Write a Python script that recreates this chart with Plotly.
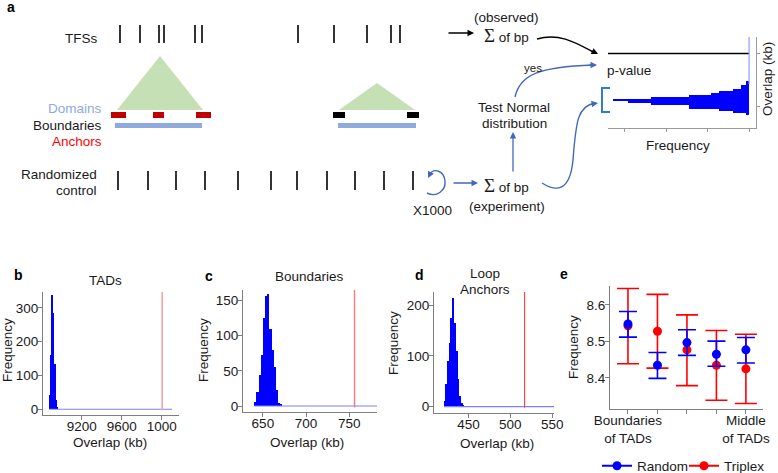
import plotly.graph_objects as go

W, H = 778, 473
FONT = "Liberation Sans, Arial, sans-serif"

# ---------------- data: permutation tests (panels b-d) ----------------
tads_bins = [8881, 8894, 8906, 8919, 8931, 8944, 8956]
tads_counts = [42, 162, 338, 285, 135, 28, 6]
tads_bin_width = 12.5
tads_observed = 10005
tads_null_span = [8875, 10103]

bound_bins = [641.25, 643.75, 646.25, 648.75, 651.25, 653.75, 656.25,
              658.75, 661.25, 663.75, 666.25, 668.75, 671.25]
bound_counts = [6, 20, 44, 73, 125, 156, 159, 110, 80, 56, 23, 5, 3]
bound_bin_width = 2.5
bound_observed = 756
bound_null_span = [640, 782]

anchor_bins = [422, 424, 426, 428, 430, 432, 434, 436, 438, 440, 442, 444]
anchor_counts = [12, 45, 90, 125, 175, 215, 165, 110, 55, 22, 8, 3]
anchor_bin_width = 2
anchor_observed = 517
anchor_null_span = [421, 552]

# ---------------- data: panel e ----------------
tad_positions = [1, 2, 3, 4, 5]
tad_position_labels = ["Boundaries<br>of TADs", "", "", "", "Middle<br>of TADs"]
random_mean = [8.548, 8.435, 8.497, 8.465, 8.477]
random_low = [8.512, 8.399, 8.462, 8.432, 8.441]
random_high = [8.582, 8.470, 8.532, 8.501, 8.511]
triplex_mean = [8.543, 8.528, 8.477, 8.435, 8.425]
triplex_low = [8.439, 8.427, 8.379, 8.339, 8.330]
triplex_high = [8.645, 8.629, 8.573, 8.530, 8.520]

# ---------------- data: schematic inset histogram (panel a) ----------------
inset_overlap = [14, 16, 18, 20, 22, 24, 26, 28, 30, 32, 34, 36, 38, 40, 42, 44, 46]
inset_freq = [3, 16, 31, 61, 61, 99, 123, 138, 99, 61, 39, 31, 16, 8, 8, 3, 3]
inset_observed = 74.5

# ---------------- data: schematic genome tracks (panel a) ----------------
tfs_sites = [120, 140, 159, 164, 195, 202, 298, 334, 367, 391, 400]
random_sites = [118, 148, 176, 205, 238, 271, 297, 327, 355, 384, 413]
domain_left = [117, 339]
domain_right = [203, 415]
domain_apex = [56, 83]
anchor_left = [111, 153, 196]
anchor_right = [126, 164, 211]
boundary_left = [333, 407]
boundary_right = [345, 419]
domain_bar_left = [115, 338]
domain_bar_right = [202, 416]


def xd(a, b):
    return [a / W, b / W]


def yd(top, bottom):
    return [1 - bottom / H, 1 - top / H]


def ticks_xy(xs, y0, y1):
    X, Y = [], []
    for x in xs:
        X += [x, x, None]
        Y += [y0, y1, None]
    return X, Y


def rects_xy(lefts, rights, y0, y1):
    X, Y = [], []
    for l, r in zip(lefts, rights):
        X += [l, r, r, l, l, None]
        Y += [y0, y0, y1, y1, y0, None]
    return X, Y


fig = go.Figure()
S = dict(xaxis="x5", yaxis="y5", hoverinfo="skip", showlegend=False)

# ---- schematic ----
x, y = ticks_xy(tfs_sites, 25, 43)
fig.add_trace(go.Scatter(x=x, y=y, mode="lines", line=dict(color="black", width=1.6), **S))
x, y = ticks_xy(random_sites, 171, 190)
fig.add_trace(go.Scatter(x=x, y=y, mode="lines", line=dict(color="black", width=1.6), **S))
for l, r, a in zip(domain_left, domain_right, domain_apex):
    fig.add_trace(go.Scatter(x=[l, (l + r) / 2, r, l], y=[110, a, 110, 110], mode="lines",
                             fill="toself", fillcolor="#c5e0b4", line=dict(width=0), **S))
x, y = rects_xy(anchor_left, anchor_right, 112, 118)
fig.add_trace(go.Scatter(x=x, y=y, mode="lines", fill="toself", fillcolor="#c00000",
                         line=dict(width=0), **S))
x, y = rects_xy(boundary_left, boundary_right, 112, 118)
fig.add_trace(go.Scatter(x=x, y=y, mode="lines", fill="toself", fillcolor="#000000",
                         line=dict(width=0), **S))
x, y = rects_xy(domain_bar_left, domain_bar_right, 123, 128)
fig.add_trace(go.Scatter(x=x, y=y, mode="lines", fill="toself", fillcolor="#8faadc",
                         line=dict(width=0), **S))

# ---- inset histogram in schematic ----
fig.add_trace(go.Bar(y=inset_overlap, x=inset_freq, orientation="h", width=2,
                     marker=dict(color="#0000ff", line=dict(width=0)),
                     xaxis="x6", yaxis="y6", showlegend=False, hoverinfo="skip"))
fig.add_trace(go.Scatter(x=[0, 143], y=[inset_observed, inset_observed], mode="lines",
                         line=dict(color="black", width=1.6), xaxis="x6", yaxis="y6",
                         showlegend=False, hoverinfo="skip", cliponaxis=False))
fig.add_trace(go.Scatter(x=[0, 0], y=[44, 93], mode="lines",
                         line=dict(color="#8f9cff", width=1.2), xaxis="x6", yaxis="y6",
                         showlegend=False, hoverinfo="skip", cliponaxis=False))

# ---- panels b-d ----
hist_panels = [
    ("x", "y", tads_bins, tads_counts, tads_bin_width, tads_null_span),
    ("x2", "y2", bound_bins, bound_counts, bound_bin_width, bound_null_span),
    ("x3", "y3", anchor_bins, anchor_counts, anchor_bin_width, anchor_null_span),
]
for xa, ya, bins, counts, bw, span in hist_panels:
    fig.add_trace(go.Scatter(x=span, y=[0, 0], mode="lines", line=dict(color="#7f7fff", width=1.2),
                             xaxis=xa, yaxis=ya, showlegend=False, hoverinfo="skip"))
    fig.add_trace(go.Bar(x=bins, y=counts, width=bw, marker=dict(color="#0000ff", line=dict(width=0)),
                         xaxis=xa, yaxis=ya, showlegend=False))

# ---- panel e ----
def err(mean, low, high):
    return dict(type="data", symmetric=False,
                array=[h - m for m, h in zip(mean, high)],
                arrayminus=[m - l for m, l in zip(mean, low)])

tri_err = err(triplex_mean, triplex_low, triplex_high)
tri_err.update(color="#ff0000", thickness=1.6, width=11)
rnd_err = err(random_mean, random_low, random_high)
rnd_err.update(color="#0000ff", thickness=1.6, width=9)
fig.add_trace(go.Scatter(x=tad_positions, y=triplex_mean, mode="markers", name="Triplex",
                         marker=dict(color="#ff0000", size=9), error_y=tri_err,
                         xaxis="x4", yaxis="y4", showlegend=False))
fig.add_trace(go.Scatter(x=tad_positions, y=random_mean, mode="markers", name="Random",
                         marker=dict(color="#0000ff", size=9), error_y=rnd_err,
                         xaxis="x4", yaxis="y4", showlegend=False))
fig.add_trace(go.Scatter(x=[None], y=[None], mode="lines+markers", name="Random",
                         marker=dict(color="#0000ff", size=9), line=dict(color="#0000ff", width=2),
                         xaxis="x4", yaxis="y4", legendrank=1))
fig.add_trace(go.Scatter(x=[None], y=[None], mode="lines+markers", name="Triplex",
                         marker=dict(color="#ff0000", size=9), line=dict(color="#ff0000", width=2),
                         xaxis="x4", yaxis="y4", legendrank=2))

axc = dict(showline=True, linecolor="#7f7f7f", linewidth=1.2, ticks="outside", ticklen=4,
           tickcolor="#7f7f7f", tickwidth=1, showgrid=False, zeroline=False, automargin=False,
           tickfont=dict(size=13.5, color="#1a1a1a", family=FONT))
axx = dict(axc, ticklabelstandoff=-5)
axy = dict(axc, ticklabelstandoff=-3)

layout = dict(
    width=W, height=H, margin=dict(l=0, r=0, t=0, b=0, pad=0, autoexpand=False), autosize=False,
    paper_bgcolor="white", plot_bgcolor="rgba(0,0,0,0)",
    font=dict(family=FONT, size=13.5, color="#1a1a1a"),
    bargap=0, showlegend=True,
    legend=dict(orientation="h", x=597 / W, y=1 - 466 / H, xanchor="left", yanchor="middle",
                font=dict(size=13.5, color="#1a1a1a"), bgcolor="rgba(0,0,0,0)", itemwidth=30,
                tracegroupgap=0, entrywidth=42),
    xaxis=dict(axx, domain=xd(43, 179), range=[8813, 10173], anchor="y",
               tickvals=[9200, 9600, 10000], ticktext=["9200", "9600", "1000"]),
    yaxis=dict(axy, domain=yd(292, 415), range=[-17, 347], anchor="x", tickvals=[0, 100, 200, 300]),
    xaxis2=dict(axx, domain=xd(243, 377), range=[627, 782], anchor="y2", tickvals=[650, 700, 750]),
    yaxis2=dict(axy, domain=yd(290, 412), range=[-8.5, 165], anchor="x2", tickvals=[0, 50, 100, 150]),
    xaxis3=dict(axx, domain=xd(434, 554), range=[409, 552], anchor="y3", tickvals=[450, 500, 550]),
    yaxis3=dict(axy, domain=yd(292, 413), range=[-12.4, 226], anchor="x3", tickvals=[0, 100, 200]),
    xaxis4=dict(axx, domain=xd(610, 763), range=[0.39, 5.58], anchor="y4",
                tickvals=tad_positions, ticktext=tad_position_labels),
    yaxis4=dict(axy, domain=yd(286, 409), range=[8.315, 8.652], anchor="x4",
                tickvals=[8.4, 8.5, 8.6], tickformat=".1f"),
    xaxis5=dict(domain=[0, 1], range=[0, W], visible=False, anchor="y5", fixedrange=True),
    yaxis5=dict(domain=[0, 1], range=[H, 0], visible=False, anchor="x5", fixedrange=True),
    xaxis6=dict(domain=xd(608, 756), range=[143, -7], anchor="y6", showline=True,
                linecolor="#9a9a9a", linewidth=1, ticks="outside", ticklen=3, tickcolor="#9a9a9a",
                tickvals=[0, 42, 84, 126], showticklabels=False, showgrid=False, zeroline=False),
    yaxis6=dict(domain=yd(37, 128), range=[0, 91], anchor="x6", side="right", showline=True,
                linecolor="#9a9a9a", linewidth=1, ticks="outside", ticklen=3, tickcolor="#9a9a9a",
                tickvals=[22, 74.5], showticklabels=False, showgrid=False, zeroline=False),
)
fig.update_layout(**layout)

# red observed lines
fig.add_shape(type="line", xref="x", yref="y", x0=tads_observed, x1=tads_observed, y0=-3, y1=352,
              line=dict(color="#f4a3a3", width=1.6))
fig.add_shape(type="line", xref="x2", yref="y2", x0=bound_observed, x1=bound_observed, y0=-2, y1=167,
              line=dict(color="#ff7878", width=1.4))
fig.add_shape(type="line", xref="x3", yref="y3", x0=anchor_observed, x1=anchor_observed, y0=-2, y1=226,
              line=dict(color="#ff2a2a", width=1))

BLUE = "#4169b8"
# curves of the schematic (schematic coordinates)
curves = [
    ("M537,39 C560,32 578,44 595,53", "black"),
    ("M515,97 C520,74 540,67 593,65", BLUE),
    ("M542,183 C556,192 570,192 573,160 C576,120 578,106 595,103", BLUE),
    ("M427,193 C437,198 446,190 445,181 C444,171 434,167 429,175", BLUE),
    ("M610,88 L602,88 L602,112 L610,112", "#2e7bd0"),
]
for path, col in curves:
    fig.add_shape(type="path", xref="x5", yref="y5", path=path,
                  line=dict(color=col, width=1.4 if col != "#2e7bd0" else 2))

A = []
def text(x, y, t, size=13.5, color="#1a1a1a", xanchor="center", bold=False, angle=0, family=FONT):
    if bold:
        t = "<b>" + t + "</b>"
    A.append(dict(x=x, y=y, xref="x5", yref="y5", text=t, showarrow=False, xanchor=xanchor,
                  yanchor="middle", textangle=angle, font=dict(size=size, color=color, family=family)))

def arrow(x0, y0, x1, y1, color):
    A.append(dict(x=x1, y=y1, ax=x0, ay=y0, xref="x5", yref="y5", axref="x5", ayref="y5",
                  text="", showarrow=True, arrowhead=2, arrowsize=1, arrowwidth=1.3,
                  arrowcolor=color))

# panel letters
text(11, 7, "a", 14, bold=True, color="black")
text(18, 275, "b", 14, bold=True, color="black")
text(209, 276, "c", 14, bold=True, color="black")
text(419, 275, "d", 14, bold=True, color="black")
text(564, 274, "e", 14, bold=True, color="black")

# schematic labels
text(99, 38, "TFSs", xanchor="right")
text(104, 108, "Domains", color="#8faadc", xanchor="right")
text(104, 125, "Boundaries", xanchor="right")
text(104, 141, "Anchors", color="#ff0000", xanchor="right")
text(99, 174, "Randomized", xanchor="right")
text(99, 190, "control", xanchor="right")
text(432, 210, "X1000")
text(506, 17, "(observed)")
sigma = '<span style="font-family:Liberation Serif;font-size:19px">Σ</span> of bp'
text(506, 35, sigma)
text(506, 185, sigma)
text(507, 206, "(experiment)")
text(533, 68, "yes", size=11.5)
text(514, 107, "Test Normal")
text(514, 123, "distribution")
text(605, 70, "p-value", xanchor="left")
text(678, 145, "Frequency")
text(767, 79, "Overlap (kb)", angle=-90)

arrow(447, 33, 474, 33, "black")
arrow(452, 183, 478, 183, BLUE)
arrow(513, 173, 513, 132, BLUE)
arrow(590, 50, 598, 54, "black")
arrow(588, 65, 597, 65, BLUE)
arrow(591, 104, 598, 103, BLUE)
arrow(431, 172, 428, 178, BLUE)

# panel titles & axis titles
text(105, 280, "TADs")
text(309, 276, "Boundaries")
text(485, 273, "Loop")
text(485, 289, "Anchors")
for xx, yy in [(7, 350), (203, 350), (393, 343), (573, 347)]:
    text(xx, yy, "Frequency", angle=-90)
for xx, yy in [(110, 442), (307, 442), (497, 443)]:
    text(xx, yy, "Overlap (kb)")

fig.update_layout(annotations=A)
fig.write_html("out.html", config={"displayModeBar": False},
               post_script="document.body.style.margin='0px';document.body.style.overflow='hidden';")
